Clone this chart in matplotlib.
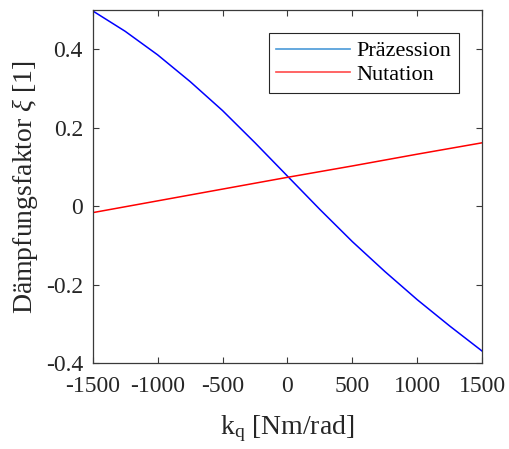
import matplotlib

matplotlib.use("Agg")
import matplotlib.pyplot as plt
from matplotlib.lines import Line2D

# values
k_q = [-1500, -1250, -1000, -750, -500, -250, 0, 250, 500, 750, 1000, 1250, 1500]
praezession = [0.498, 0.446, 0.386, 0.318, 0.244, 0.162, 0.077, -0.008, -0.090,
               -0.166, -0.238, -0.305, -0.369]
k_q_nut = [-1500, -1000, -500, 0, 500, 1000, 1500]
nutation = [-0.016, 0.014, 0.044, 0.074, 0.103, 0.133, 0.162]

x_ticks = [-1500, -1000, -500, 0, 500, 1000, 1500]
y_ticks = [-0.4, -0.2, 0, 0.2, 0.4]
y_tick_labels = ["-0.4", "-0.2", "0", "0.2", "0.4"]

plt.rcParams["font.family"] = ["Liberation Serif", "DejaVu Serif"]
plt.rcParams["mathtext.fontset"] = "custom"
plt.rcParams["mathtext.rm"] = "Liberation Serif"
plt.rcParams["mathtext.it"] = "Liberation Serif:italic"

axis_color = "#3a3a3a"

fig = plt.figure(figsize=(5.09, 4.49), dpi=100)
ax = fig.add_axes([0.182, 0.1906, 0.7656, 0.787])

ax.plot(k_q, praezession, color="#0000ff", lw=1.1)
ax.plot(k_q_nut, nutation, color="#ff0000", lw=1.1)

ax.set_xlim(-1500, 1500)
ax.set_ylim(-0.4, 0.5)
ax.set_xticks(x_ticks)
ax.set_xticklabels([str(t) for t in x_ticks])
ax.set_yticks(y_ticks)
ax.set_yticklabels(y_tick_labels)

ax.tick_params(direction="in", length=4, width=0.8, colors=axis_color,
               labelcolor="#262626", labelsize=17, top=True, right=True)
ax.tick_params(axis="x", pad=9)
ax.tick_params(axis="y", pad=7)
for spine in ax.spines.values():
    spine.set_color(axis_color)
    spine.set_linewidth(0.9)

ax.set_xlabel(r"$\mathregular{k_q}$ [Nm/rad]", fontsize=20, color="#262626", labelpad=12)
ax.set_ylabel(r"Dämpfungsfaktor $\xi$ [1]", fontsize=20, color="#262626", labelpad=4)

handles = [
    Line2D([], [], color="#4a9ad8", lw=1.2),
    Line2D([], [], color="#ff4a4a", lw=1.2),
]
leg = ax.legend(handles, ["Präzession", "Nutation"], loc="upper right",
                bbox_to_anchor=(0.94, 0.935), fontsize=16, frameon=True,
                fancybox=False, framealpha=1, edgecolor="#262626",
                handlelength=3.3, handletextpad=0.3, borderpad=0.35,
                labelspacing=0.15, borderaxespad=0)
leg.get_frame().set_linewidth(0.8)

fig.savefig("out.png", dpi=100)
